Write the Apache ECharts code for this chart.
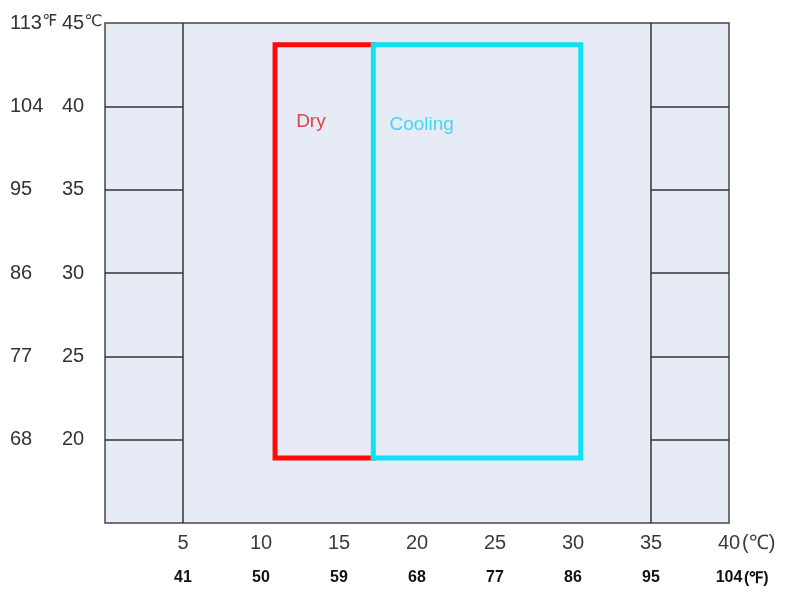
<!DOCTYPE html>
<html>
<head>
<meta charset="utf-8">
<script src="https://cdn.jsdelivr.net/npm/echarts@6/dist/echarts.min.js"></script>
<style>html,body{margin:0;padding:0;background:#fff}#c{width:785px;height:592px}</style>
</head>
<body>
<div id="c"></div>
<script>
// ---- data ----
var xTicksC = [5, 10, 15, 20, 25, 30, 35, 40];
var xLabelsF = ['41', '50', '59', '68', '77', '86', '95', '104'];
var yTicksC = [20, 25, 30, 35, 40, 45];
var yLabelsC = ['20', '25', '30', '35', '40', '45'];
var yLabelsF = ['68', '77', '86', '95', '104', '113'];
var yUnitC = '\u2103';
var yUnitF = '\u2109';
var gridYLines = [20, 25, 30, 35, 40];
var sideZones = [[0, 5], [35, 40]];
var dryX = [10.9, 17.2];
var dryY = [18.9, 43.7];
var coolX = [17.2, 30.5];
var coolY = [18.9, 43.7];
var modeNames = ['Dry', 'Cooling'];
var modeLabelX = [13.2, 20.3];
var modeLabelY = [39.1, 38.9];
var xUnitC = '(\u2103)';
var xUnitF = '(\u2109)';

var FONT = '"Liberation Sans Narrow", "Liberation Sans", Arial, sans-serif';

var chart = echarts.init(document.getElementById('c'), null, {renderer: 'canvas'});

var gridMark = [];
gridYLines.forEach(function (y) {
  sideZones.forEach(function (z) {
    gridMark.push([{coord: [z[0], y]}, {coord: [z[1], y]}]);
  });
});
sideZones.forEach(function (z) {
  var inner = z[0] === 0 ? z[1] : z[0];
  gridMark.push([{coord: [inner, 15]}, {coord: [inner, 45]}]);
});

function rect(xs, ys, openRight) {
  if (openRight) {
    return [[xs[1], ys[0]], [xs[0], ys[0]], [xs[0], ys[1]], [xs[1], ys[1]]];
  }
  return [[xs[0], ys[0]], [xs[0], ys[1]], [xs[1], ys[1]], [xs[1], ys[0]], [xs[0], ys[0]]];
}

var unitRich = {u: {fontFamily: 'DejaVu Sans', fontSize: 16, color: '#333', padding: [0, 0, 2, 0]}};

var option = {
  animation: false,
  grid: {
    left: 105, right: 56, top: 23, bottom: 69,
    show: true, backgroundColor: '#e7ebf6', borderColor: '#474747', borderWidth: 1.5
  },
  xAxis: [{
    type: 'value', min: 0, max: 40, interval: 5, position: 'bottom',
    axisLine: {show: false}, axisTick: {show: false}, splitLine: {show: false},
    axisLabel: {
      margin: 10, fontFamily: FONT, fontSize: 20, color: '#3a3a3a',
      formatter: function (v) { var i = xTicksC.indexOf(v); return i < 0 ? '' : String(xTicksC[i]); }
    }
  }, {
    type: 'value', min: 0, max: 40, interval: 5, position: 'bottom', offset: 38,
    axisLine: {show: false}, axisTick: {show: false}, splitLine: {show: false},
    axisLabel: {
      margin: 9, fontFamily: '"Liberation Sans", Arial, sans-serif', fontWeight: 'bold', fontSize: 16, color: '#111',
      formatter: function (v) { var i = xTicksC.indexOf(v); return i < 0 ? '' : xLabelsF[i]; }
    }
  }],
  yAxis: [{
    type: 'value', min: 15, max: 45, interval: 5, position: 'left',
    axisLine: {show: false}, axisTick: {show: false}, splitLine: {show: false},
    axisLabel: {
      margin: 43, align: 'left', fontFamily: FONT, fontSize: 20, color: '#333', rich: unitRich,
      formatter: function (v) {
        var i = yTicksC.indexOf(v);
        if (i < 0) return '';
        return i === yTicksC.length - 1 ? yLabelsC[i] + '{u|' + yUnitC + '}' : yLabelsC[i];
      }
    }
  }, {
    type: 'value', min: 15, max: 45, interval: 5, position: 'left',
    axisLine: {show: false}, axisTick: {show: false}, splitLine: {show: false},
    axisLabel: {
      margin: 95, align: 'left', fontFamily: FONT, fontSize: 20, color: '#333', rich: unitRich,
      formatter: function (v) {
        var i = yTicksC.indexOf(v);
        if (i < 0) return '';
        return i === yTicksC.length - 1 ? yLabelsF[i] + '{u|' + yUnitF + '}' : yLabelsF[i];
      }
    }
  }],
  series: [{
    type: 'line', data: [], xAxisIndex: 0, yAxisIndex: 0, silent: true,
    markLine: {
      silent: true, symbol: ['none', 'none'], animation: false,
      label: {show: false},
      lineStyle: {color: '#333', width: 1.5, type: 'solid'},
      data: gridMark
    }
  }, {
    name: 'Dry', type: 'line', xAxisIndex: 0, yAxisIndex: 0, showSymbol: false, silent: true, z: 3,
    lineStyle: {color: '#ff0a0a', width: 5, cap: 'square', join: 'miter'},
    data: rect(dryX, dryY, true)
  }, {
    name: 'Cooling', type: 'line', xAxisIndex: 0, yAxisIndex: 0, showSymbol: false, silent: true, z: 4,
    lineStyle: {color: '#0fe0f8', width: 5, cap: 'square', join: 'miter'},
    data: rect(coolX, coolY, false)
  }, {
    type: 'scatter', xAxisIndex: 0, yAxisIndex: 0, symbolSize: 0, silent: true, z: 5,
    data: modeNames.map(function (n, i) { return {name: n, value: [modeLabelX[i], modeLabelY[i]]}; }),
    label: {
      show: true, position: 'inside', fontFamily: FONT, fontSize: 19,
      formatter: function (p) { return p.name; }
    }
  }]
};
option.series[3].data[0].label = {color: '#e01515'};
option.series[3].data[1].label = {color: '#19d2ef'};

chart.setOption(option);

var px40 = chart.convertToPixel({xAxisIndex: 0}, 40);
var bottomY = chart.convertToPixel({yAxisIndex: 0}, 15);
chart.setOption({
  graphic: [{
    type: 'text', left: px40 + 13, top: bottomY + 10,
    style: {text: xUnitC, fontFamily: FONT, fontSize: 20, fill: '#3a3a3a'}
  }, {
    type: 'text', left: px40 + 15, top: bottomY + 48,
    style: {text: xUnitF, fontFamily: '"Liberation Sans", Arial, sans-serif', fontWeight: 'bold', fontSize: 16, fill: '#111'}
  }]
});
</script>
</body>
</html>
